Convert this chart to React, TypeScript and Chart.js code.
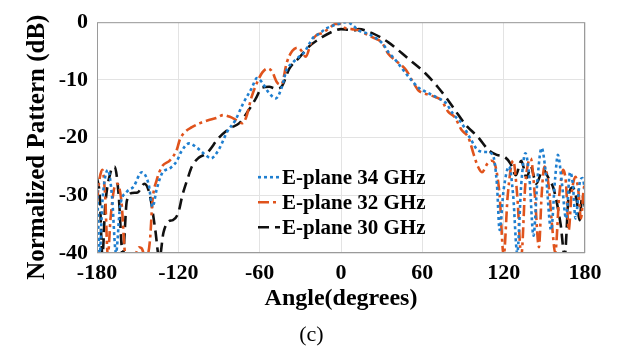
import React, { useEffect, useRef } from "react";
import { Chart, registerables } from "chart.js";

Chart.register(...registerables);

const xTicks = [-180, -120, -60, 0, 60, 120, 180];
const yTicks = [-40, -30, -20, -10, 0];

const xTitle = "Angle(degrees)";
const yTitle = "Normalized Pattern (dB)";
const caption = "(c)";
const seriesNames = ["E-plane 34 GHz", "E-plane 32 GHz", "E-plane 30 GHz"];

const angles34 = [-180,-178,-176,-172,-169,-166,-163,-158,-153,-147,-142,-139,-136,-132,-126,-121,-118,-112,-106,-100,-96,-90,-84,-78,-72,-66,-62,-58,-54,-48,-44,-40,-36,-31,-27,-24,-21,-16,-11,-6,-2,4,8,13,20,26,31,35,40,43,50,57,62,67,72,77,83,89,96,101,107,112,115,117,120,124,127,130,133,136,139,142,145,148,151,155,158,160,163,166,169,171,173,176,178,180];
const pattern34 = [-28,-40,-31,-25.6,-30,-40,-32,-29.4,-28.5,-26,-28,-32,-29,-26.2,-25.3,-24,-22.5,-21,-21.8,-23,-23.6,-22,-19,-17,-14,-11.5,-9.7,-10.5,-12,-13.2,-11.5,-8.2,-7.1,-6,-5.2,-4,-2.8,-2,-1.1,-0.6,-0.3,0,-0.4,-1.4,-2,-2.8,-3.8,-5.2,-6.5,-7.4,-9.5,-11.3,-12,-12.6,-13.2,-13.9,-16,-17.5,-20.4,-22.2,-22.5,-23,-28,-36,-29,-25,-30,-40,-28,-22.7,-27,-37,-27,-21.8,-26,-36,-27,-23,-28,-34,-26,-28,-34,-28,-27,-29];

const angles32 = [-180,-178,-176,-174,-172,-170,-167,-165,-162,-159,-156,-152,-149,-147,-144,-141,-139,-136,-132,-126,-121,-119,-115,-110,-104,-98,-92,-87,-82,-77,-73,-70,-66,-62,-58,-54,-51,-47,-44,-40,-36,-32,-29,-26,-22,-18,-14,-9,-4,-1,3,8,13,18,23,30,35,40,48,53,57,65,70,74,79,84,89,94,98,101,104,108,111,114,117,120,123,127,130,133,136,140,143,146,148,150,153,156,158,161,164,166,168,170,173,175,177,179,180];
const pattern32 = [-31,-27,-25.6,-30,-40.5,-34,-28.5,-28,-31,-40.5,-41,-40.5,-39,-39.2,-41,-38,-30.8,-27.4,-25,-23.9,-22,-20.4,-19,-18.2,-17.5,-17,-16.6,-16.1,-16.4,-17,-17.5,-16.5,-13,-10.5,-8.7,-8,-8.5,-10.5,-10.8,-7,-5,-4.4,-5,-6,-3.5,-2.2,-1.9,-1.1,-0.3,-0.3,-1,-1.2,-1.4,-2,-2.6,-3.5,-5.5,-6.6,-8.3,-10.3,-11.8,-12.6,-13,-13.5,-15.5,-16.5,-18.7,-20,-23,-25,-26,-24.5,-24,-25,-30,-40.5,-30,-24,-30,-40.5,-28,-23.6,-30,-39,-30,-25,-28,-36,-40,-30,-25.6,-28,-36,-30,-26.8,-29,-34,-29,-28];

const angles30 = [-180,-178,-176,-174,-170,-167,-164,-161,-158,-154,-150,-145,-141,-137,-134,-131,-127,-124,-120,-117,-113,-110,-105,-99,-90,-82,-75,-68,-63,-58,-53,-48,-44,-38,-31,-24,-14,-4,0,5,10,13,23,35,50,62,72,78,84,92,101,109,115,121,125,129,133,137,140,144,149,153,157,162,165,168,171,174,176,178,180];
const pattern30 = [-27,-30,-40.5,-32,-26,-25,-30,-40.5,-31,-29.6,-29.5,-28,-30,-36,-41,-36.5,-34.5,-34.3,-33,-30,-27,-25,-23.5,-22.7,-20,-18.4,-17.5,-15.2,-13.3,-11.3,-11.2,-11.5,-11.2,-8,-6.2,-4.3,-2.6,-1.4,-1.2,-1.3,-1.4,-1.2,-1.9,-3.5,-6.4,-8.8,-11.4,-13.2,-15.2,-17.8,-19.9,-22.2,-23,-23.4,-24.5,-26.5,-24,-27,-25,-28,-25.5,-27,-29,-35,-40.5,-30,-28.6,-31,-34.3,-30,-32];

const colors = ["#1f7fd0", "#e0531c", "#111111"];
const dashes = [[3, 3], [11, 4, 3, 4], [11, 6]];

const FONT = "'Liberation Serif', 'Times New Roman', serif";

const toPoints = (xs: number[], ys: number[]) => xs.map((x, i) => ({ x, y: ys[i] }));

const framePlugin = {
  id: "frameLegend",
  afterDatasetsDraw(chart: any) {
    const { ctx, chartArea: a } = chart;
    ctx.save();
    ctx.strokeStyle = "#9a9a9a";
    ctx.lineWidth = 1;
    ctx.setLineDash([]);
    ctx.strokeRect(a.left + 0.5, a.top + 0.5, a.right - a.left - 1, a.bottom - a.top - 1);

    const lx = a.left + 161;
    const rows = [a.top + 155, a.top + 180, a.top + 205];
    chart.data.datasets.forEach((ds: any, i: number) => {
      const y = rows[i];
      ctx.beginPath();
      ctx.strokeStyle = ds.borderColor;
      ctx.lineWidth = ds.borderWidth;
      ctx.setLineDash(ds.borderDash);
      ctx.moveTo(lx, y);
      ctx.lineTo(lx + 22, y);
      ctx.stroke();
      ctx.setLineDash([]);
      ctx.fillStyle = "#000";
      ctx.font = `bold 21px ${FONT}`;
      ctx.textBaseline = "middle";
      ctx.textAlign = "left";
      ctx.fillText(ds.label, lx + 24, y + 1);
    });

    // y-axis title
    ctx.save();
    ctx.translate(38, a.top + 125);
    ctx.rotate(-Math.PI / 2);
    ctx.font = `bold 25px ${FONT}`;
    ctx.fillStyle = "#000";
    ctx.textAlign = "center";
    ctx.textBaseline = "middle";
    ctx.fillText(yTitle, 0, 0);
    ctx.restore();

    ctx.restore();
  },
};

export default function App() {
  const ref = useRef<HTMLCanvasElement | null>(null);

  useEffect(() => {
    if (!ref.current) return;
    const chart = new Chart(ref.current, {
      type: "line",
      data: {
        datasets: [
          { label: seriesNames[0], data: toPoints(angles34, pattern34) },
          { label: seriesNames[1], data: toPoints(angles32, pattern32) },
          { label: seriesNames[2], data: toPoints(angles30, pattern30) },
        ].map((d, i) => ({
          ...d,
          borderColor: colors[i],
          backgroundColor: colors[i],
          borderWidth: 2.6,
          borderDash: dashes[i],
          pointRadius: 0,
          fill: false,
          cubicInterpolationMode: "monotone" as const,
        })),
      },
      options: {
        responsive: false,
        animation: false,
        layout: { padding: { left: 0, top: 22, right: 40, bottom: 37 } },
        plugins: { legend: { display: false }, tooltip: { enabled: false } },
        scales: {
          x: {
            type: "linear",
            min: -180,
            max: 180,
            afterBuildTicks: (s: any) => { s.ticks = xTicks.map((v) => ({ value: v })); },
            afterFit: (s: any) => { s.height = 60; },
            grid: { color: "#e3e3e3", drawTicks: false },
            border: { display: false },
            ticks: { color: "#000", padding: 7, font: { family: FONT, size: 22, weight: "bold" } },
            title: {
              display: true,
              text: xTitle,
              color: "#000",
              padding: { top: 0, bottom: 0 },
              font: { family: FONT, size: 24, weight: "bold" },
            },
          },
          y: {
            type: "linear",
            min: -40,
            max: 0,
            afterBuildTicks: (s: any) => { s.ticks = yTicks.map((v) => ({ value: v })); },
            afterFit: (s: any) => { s.width = 97; },
            grid: { color: "#e3e3e3", drawTicks: false },
            border: { display: false },
            ticks: { color: "#000", padding: 9, font: { family: FONT, size: 22, weight: "bold" } },
            title: { display: false, text: yTitle },
          },
        },
      },
      plugins: [framePlugin],
    });
    return () => chart.destroy();
  }, []);

  return (
    <div style={{ position: "fixed", left: 0, top: 0, width: 625, height: 350, background: "#fff" }}>
      <canvas ref={ref} width={625} height={350} style={{ display: "block" }} />
      <div
        style={{
          position: "absolute",
          left: 0,
          width: 625,
          top: 321,
          textAlign: "center",
          fontFamily: FONT,
          fontSize: 22,
          lineHeight: "26px",
          color: "#000",
        }}
      >
        <span style={{ position: "relative", left: -1 }}>{caption}</span>
      </div>
    </div>
  );
}
